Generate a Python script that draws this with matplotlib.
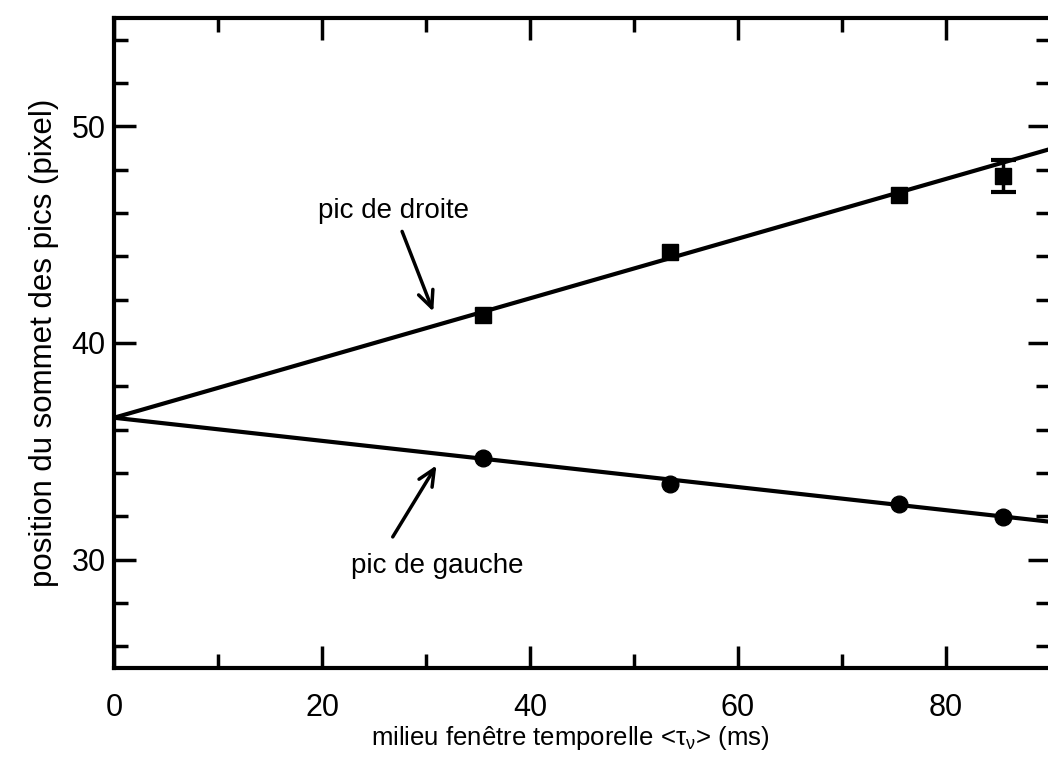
import matplotlib.pyplot as plt
import numpy as np

plt.rcParams['font.family'] = ['Liberation Sans', 'DejaVu Sans']

# data
t_mid = np.array([35.5, 53.5, 75.5, 85.5])
pic_droite = np.array([41.3, 44.2, 46.85, 47.7])
pic_droite_err = np.array([0.0, 0.0, 0.0, 0.75])
pic_gauche = np.array([34.7, 33.5, 32.55, 31.95])

# fitted lines (common intercept)
fit_x = np.array([0, 90])
fit_droite = np.array([36.55, 48.95])
fit_gauche = np.array([36.55, 31.75])

fig = plt.figure(figsize=(10.48, 7.59), dpi=100)
ax = fig.add_axes([0.1088, 0.1199, 0.8931, 0.8564])

ax.plot(fit_x, fit_droite, color='black', lw=3, solid_capstyle='butt')
ax.plot(fit_x, fit_gauche, color='black', lw=3, solid_capstyle='butt')

ax.plot(t_mid, pic_droite, 's', color='black', markersize=11)
has_err = pic_droite_err > 0
ax.errorbar(t_mid[has_err], pic_droite[has_err], yerr=pic_droite_err[has_err],
            fmt='none', ecolor='black', capsize=9, elinewidth=2.5, capthick=3)
ax.plot(t_mid, pic_gauche, 'o', color='black', markersize=12)

arrow = dict(arrowstyle='->,head_length=1.2,head_width=0.55',
             lw=2.5, color='black', shrinkA=0, shrinkB=0)
ax.text(26.9, 46.1, 'pic de droite', ha='center', va='center', fontsize=20)
ax.annotate('', xy=(30.7, 41.45), xytext=(27.7, 45.15), arrowprops=arrow)
ax.text(31.1, 29.7, 'pic de gauche', ha='center', va='center', fontsize=20)
ax.annotate('', xy=(31.0, 34.35), xytext=(26.8, 31.05), arrowprops=arrow)

ax.set_xlim(0, 90)
ax.set_ylim(25, 55)
ax.set_xticks([0, 20, 40, 60, 80])
ax.set_xticks(np.arange(10, 90, 20), minor=True)
ax.set_yticks([30, 40, 50])
ax.set_yticks(np.arange(26, 56, 2), minor=True)

ax.tick_params(which='both', direction='in', top=True, right=True,
               labelsize=22, width=2.5)
ax.tick_params(axis='x', pad=18)
ax.tick_params(axis='y', pad=6)
ax.tick_params(which='major', length=16)
ax.tick_params(which='minor', length=10)
for s in ax.spines.values():
    s.set_linewidth(3)

ax.set_xlabel(r'milieu fenêtre temporelle <$\mathregular{\tau_\nu}$> (ms)', fontsize=18.5)
ax.xaxis.set_label_coords(0.487, -0.086)
ax.set_ylabel('position du sommet des pics (pixel)', fontsize=22.5, labelpad=9)

plt.savefig('out.png', dpi=100)
